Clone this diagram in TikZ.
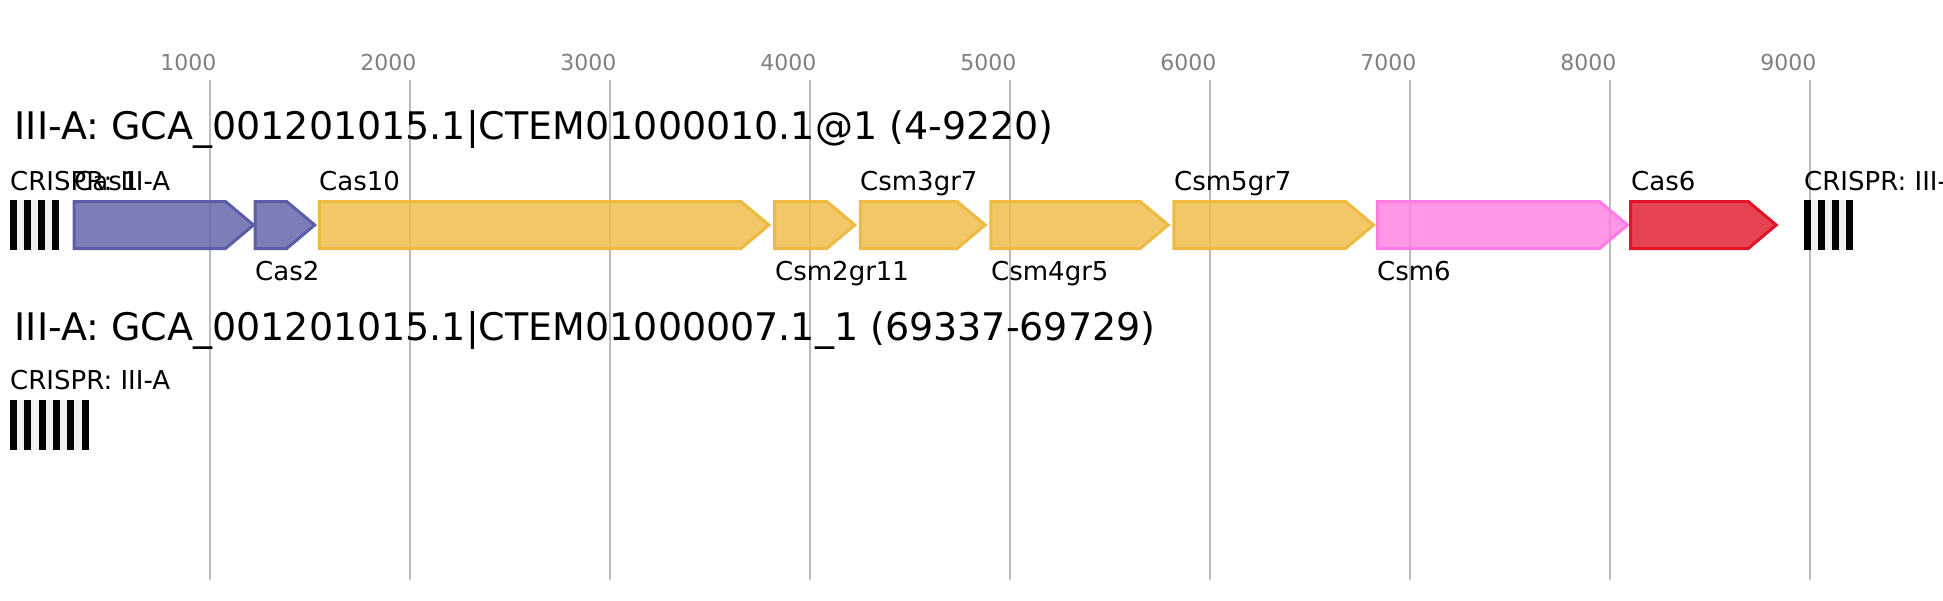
\documentclass[tikz,border=0pt]{standalone}
\usepackage{fontspec}
\setmainfont{DejaVu Sans}
\definecolor{gridc}{HTML}{BBBBBB}
\definecolor{tickc}{HTML}{808080}
\definecolor{blueS}{HTML}{5B5EA6}
\definecolor{yelS}{HTML}{EFBA42}
\definecolor{pinkS}{HTML}{FF7CE2}
\definecolor{redS}{HTML}{E01529}
\definecolor{lightstripe}{HTML}{F0F0F0}
\tikzset{
  gridline/.style={draw=gridc, line width=1.6pt},
  ticklabel/.style={text=tickc, font=\fontsize{22}{26}\selectfont, anchor=base east, inner sep=0pt},
  titletext/.style={font=\fontsize{38}{44}\selectfont, anchor=base west, inner sep=0pt},
  genelabel/.style={font=\fontsize{26}{30}\selectfont, anchor=base west, inner sep=0pt},
  genebody/.style={line width=3pt, draw=#1, fill=#1, fill opacity=0.8, line join=miter},
}
\newcommand{\genearrow}[3]{%
  \path[genebody=#3] (#1,201.5) -- ({#2-28},201.5) -- (#2,225) -- ({#2-28},248.5) -- (#1,248.5) -- cycle;
}
\newcommand{\crisprarray}[5]{% x, ytop, ybot, n stripes, stripe width
  \fill[lightstripe] (#1,#2) rectangle ({#1+#4*#5},#3);
  \foreach \k in {0,2,...,#4} {
    \ifnum\k<#4\relax
      \fill[black] ({#1+\k*#5},#2) rectangle ({#1+(\k+1)*#5},#3);
    \fi
  }
}
\begin{document}
\begin{tikzpicture}[x=1pt,y=-1pt]
  \useasboundingbox (0,0) rectangle (1943,600);
  \clip (0,0) rectangle (1943,600);
  \fill[white] (0,0) rectangle (1943,600);
  % grid
  \foreach \i in {1,...,9} {
    \draw[gridline] ({10+200*\i},80) -- ({10+200*\i},580);
    \node[ticklabel] (tick\i) at ({16.5+200*\i},70) {\i000};
  }
  % titles
  \node[titletext] (title1) at (14.5,139) {III-A: GCA\_001201015.1|CTEM01000010.1@1 (4-9220)};
  \node[titletext] (title2) at (14.5,340) {III-A: GCA\_001201015.1|CTEM01000007.1\_1 (69337-69729)};
  % genes, row 1
  \genearrow{74.2}{253.5}{blueS}
  \genearrow{255}{314.7}{blueS}
  \genearrow{319.4}{769}{yelS}
  \genearrow{774.7}{854.8}{yelS}
  \genearrow{860.4}{985.2}{yelS}
  \genearrow{990.8}{1168.2}{yelS}
  \genearrow{1173.8}{1373.5}{yelS}
  \genearrow{1377.4}{1627.6}{pinkS}
  \genearrow{1630.7}{1776.2}{redS}
  % CRISPR arrays
  \crisprarray{10}{200}{250}{7}{7.05}
  \crisprarray{1804}{200}{250}{7}{7.05}
  \crisprarray{10}{400}{450}{11}{7.15}
  % labels
  \node[genelabel] (lcr1) at (10,190) {CRISPR: III-A};
  \node[genelabel] (lcas1) at (74,190) {Cas1};
  \node[genelabel] (lcas2) at (255,280) {Cas2};
  \node[genelabel] (lcas10) at (319,190) {Cas10};
  \node[genelabel] (lcsm2) at (775,280) {Csm2gr11};
  \node[genelabel] (lcsm3) at (860,190) {Csm3gr7};
  \node[genelabel] (lcsm4) at (991,280) {Csm4gr5};
  \node[genelabel] (lcsm5) at (1174,190) {Csm5gr7};
  \node[genelabel] (lcsm6) at (1377,280) {Csm6};
  \node[genelabel] (lcas6) at (1631,190) {Cas6};
  \node[genelabel] (lcr2) at (1804,190) {CRISPR: III-A};
  \node[genelabel] (lcr3) at (10,389) {CRISPR: III-A};
\end{tikzpicture}
\end{document}
